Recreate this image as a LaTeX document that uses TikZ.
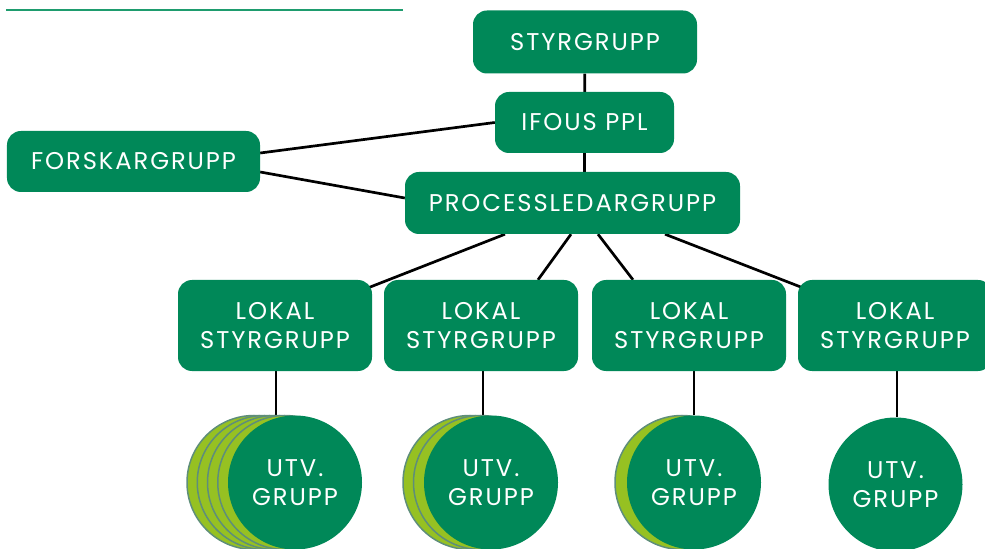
\documentclass[tikz,border=0pt]{standalone}
\usepackage{fontspec}
\setmainfont{Poppins}[LetterSpace=8]
\usetikzlibrary{backgrounds}
\definecolor{darkgreen}{RGB}{0,136,88}
\definecolor{limegreen}{RGB}{150,193,34}
\definecolor{rimgreen}{RGB}{94,142,122}
\definecolor{rulegreen}{RGB}{30,156,110}
\begin{document}
\begin{tikzpicture}[x=1bp,y=-1bp,
    box/.style={fill=darkgreen,rounded corners=14bp,text=white,align=center,inner sep=0pt,
      font=\fontsize{24.3}{29}\selectfont},
    utv/.style={circle,fill=darkgreen,text=white,align=center,inner sep=0pt,minimum size=134bp,
      font=\fontsize{24.3}{29}\selectfont},
    back/.style={circle,fill=limegreen,draw=rimgreen,line width=1.5bp,minimum size=134bp,inner sep=0pt},
    link/.style={line width=2.7bp,black}]
    \useasboundingbox (0,0) rectangle (985,549);
    % rule at the top
    \draw[rulegreen,line width=1.6bp] (6,10) -- (403,10);
    % Top
    \node[box,minimum width=224bp,minimum height=63bp] (styr) at (585,42) {STYRGRUPP};
    \node[box,minimum width=179bp,minimum height=61bp] (ifous) at (584.5,122.5) {IFOUS PPL};
    \node[box,minimum width=253bp,minimum height=61bp] (fors) at (133.5,161.5) {FORSKARGRUPP};
    \node[box,minimum width=335bp,minimum height=62bp] (proc) at (572.5,203) {PROCESSLEDARGRUPP};
    % Local groups
    \node[box,minimum width=194bp,minimum height=91bp] (lok1) at (275,325.5) {LOKAL\\STYRGRUPP};
    \node[box,minimum width=194bp,minimum height=91bp] (lok2) at (481,325.5) {LOKAL\\STYRGRUPP};
    \node[box,minimum width=194bp,minimum height=91bp] (lok3) at (689,325.5) {LOKAL\\STYRGRUPP};
    \node[box,minimum width=194bp,minimum height=91bp] (lok4) at (895,325.5) {LOKAL\\STYRGRUPP};
    % Development groups
    \foreach \i in {4,3,2,1} {
        \node[back] (b1\i) at (295-10.25*\i,482.5) {};
    }
    \node[utv] (utv1) at (295,482.5) {UTV.\\GRUPP};
    \foreach \i in {2,1} {
        \node[back] (b2\i) at (491-10.5*\i,482.5) {};
    }
    \node[utv] (utv2) at (491,482.5) {UTV.\\GRUPP};
    \node[back] (b31) at (682,482.5) {};
    \node[utv] (utv3) at (694,482.5) {UTV.\\GRUPP};
    \node[utv] (utv4) at (895.5,484.5) {UTV.\\GRUPP};
    \begin{scope}[on background layer]
        \draw[link] (styr) -- (ifous);
        \draw[link] (ifous) -- (ifous |- proc.north);
        \draw[link] ([yshift=8.5bp]fors.east) -- (ifous.west);
        \draw[link] ([yshift=-10.5bp]fors.east) -- ([yshift=5bp]proc.west);
        \draw[link] ([xshift=-67.5bp]proc.south) -- ([xshift=-4bp,yshift=-8bp]lok1.north east);
        \draw[link] ([xshift=-1.5bp]proc.south) -- ([xshift=57bp]lok2.north);
        \draw[link] ([xshift=25.5bp]proc.south) -- ([xshift=-56bp]lok3.north);
        \draw[link] ([xshift=92.5bp]proc.south) -- ([xshift=5bp,yshift=-8bp]lok4.north west);
        \draw[link] ([xshift=1bp]lok1.south) -- ([xshift=1bp]lok1.south |- utv1.north);
        \draw[link] ([xshift=2bp]lok2.south) -- ([xshift=2bp]lok2.south |- utv2.north);
        \draw[link] ([xshift=5bp]lok3.south) -- ([xshift=5bp]lok3.south |- utv3.north);
        \draw[link] ([xshift=2bp]lok4.south) -- ([xshift=2bp]lok4.south |- utv4.north);
    \end{scope}
\end{tikzpicture}
\end{document}
